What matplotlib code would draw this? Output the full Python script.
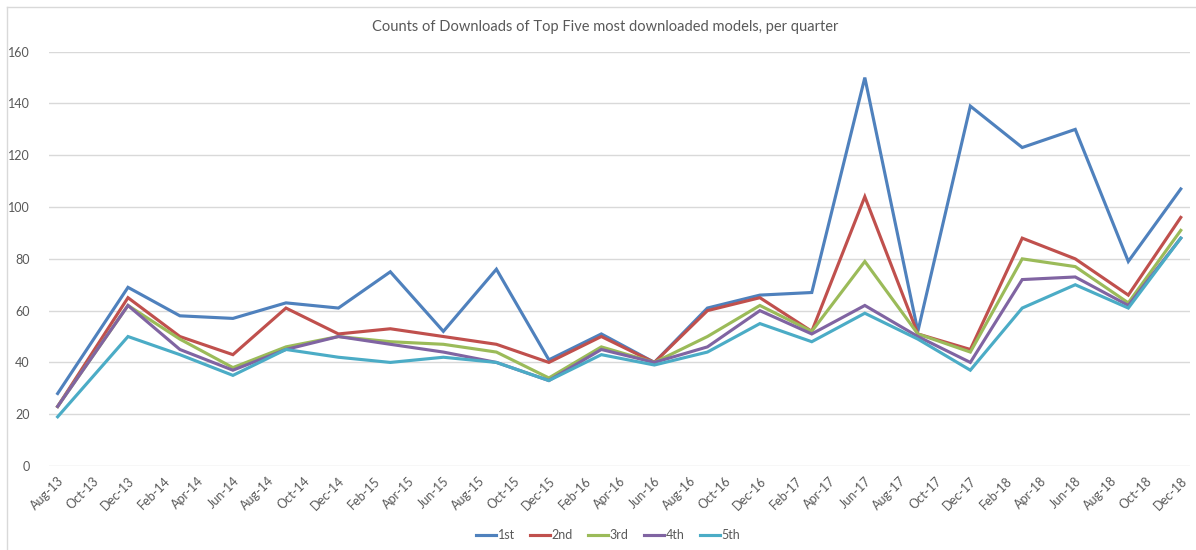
import matplotlib
matplotlib.use("Agg")
import matplotlib.pyplot as plt
import matplotlib.dates as mdates
import pandas as pd
from matplotlib.lines import Line2D

quarters = ["2013-08", "2013-12", "2014-03", "2014-06", "2014-09", "2014-12",
            "2015-03", "2015-06", "2015-09", "2015-12", "2016-03", "2016-06",
            "2016-09", "2016-12", "2017-03", "2017-06", "2017-09", "2017-12",
            "2018-03", "2018-06", "2018-09", "2018-12"]
first = [28, 69, 58, 57, 63, 61, 75, 52, 76, 41, 51, 40, 61, 66, 67, 150, 52, 139, 123, 130, 79, 107]
second = [23, 65, 50, 43, 61, 51, 53, 50, 47, 40, 50, 40, 60, 65, 52, 104, 51, 45, 88, 80, 66, 96]
third = [23, 62, 49, 38, 46, 50, 48, 47, 44, 34, 46, 40, 50, 62, 52, 79, 51, 44, 80, 77, 63, 91]
fourth = [23, 62, 45, 37, 45, 50, 47, 44, 40, 33, 45, 40, 46, 60, 51, 62, 50, 40, 72, 73, 62, 88]
fifth = [19, 50, 43, 35, 45, 42, 40, 42, 40, 33, 43, 39, 44, 55, 48, 59, 49, 37, 61, 70, 61, 88]
series_names = ["1st", "2nd", "3rd", "4th", "5th"]
colors = ["#4F81BD", "#C0504D", "#9BBB59", "#8064A2", "#4BACC6"]
title = "Counts of Downloads of Top Five most downloaded models, per quarter"

plt.rcParams['font.family'] = ['Lato', 'DejaVu Sans']

dates = pd.to_datetime(quarters, format="%Y-%m")

fig = plt.figure(figsize=(11.96, 5.5), dpi=100)
ax = fig.add_axes([49/1196, 1 - 466/550, (1190 - 49)/1196, (466 - 51.7)/550])

for name, vals, c in zip(series_names, [first, second, third, fourth, fifth], colors):
    ax.plot(dates, vals, color=c, linewidth=2.25, label=name, solid_joinstyle='miter')

ax.set_ylim(0, 160)
ax.set_yticks(range(0, 161, 20))
ax.set_xlim(dates[0] - pd.Timedelta(days=15), dates[-1] + pd.Timedelta(days=16))
ax.xaxis.set_major_locator(mdates.MonthLocator(bymonth=[2, 4, 6, 8, 10, 12]))
ax.xaxis.set_major_formatter(mdates.DateFormatter("%b-%y"))

for s in ax.spines.values():
    s.set_visible(False)
ax.grid(axis='y', color='#D9D9D9', linewidth=1.0)
ax.set_axisbelow(True)
ax.tick_params(axis='both', length=0, colors='#595959', labelsize=9)
ax.tick_params(axis='y', pad=14)
ax.tick_params(axis='x', pad=6)
for lab in ax.get_xticklabels():
    lab.set_rotation(45)
    lab.set_ha('right')
    lab.set_rotation_mode('anchor')

fig.text(605/1196, 1 - 27/550, title, ha='center', va='center', fontsize=10.5, color='#595959')

fig.legend(loc='center', bbox_to_anchor=(608/1196, 1 - 535/550), ncol=5, frameon=False,
           fontsize=9, handlelength=1.6, handletextpad=0.15, columnspacing=1.2, labelcolor='#595959')

# chart-area border (top and left edges visible in the reference)
fig.add_artist(Line2D([7/1196, 7/1196], [0, 1 - 7/550], transform=fig.transFigure, color='#D9D9D9', linewidth=1))
fig.add_artist(Line2D([7/1196, 1], [1 - 7/550, 1 - 7/550], transform=fig.transFigure, color='#D9D9D9', linewidth=1))

fig.savefig("out.png", dpi=100)
